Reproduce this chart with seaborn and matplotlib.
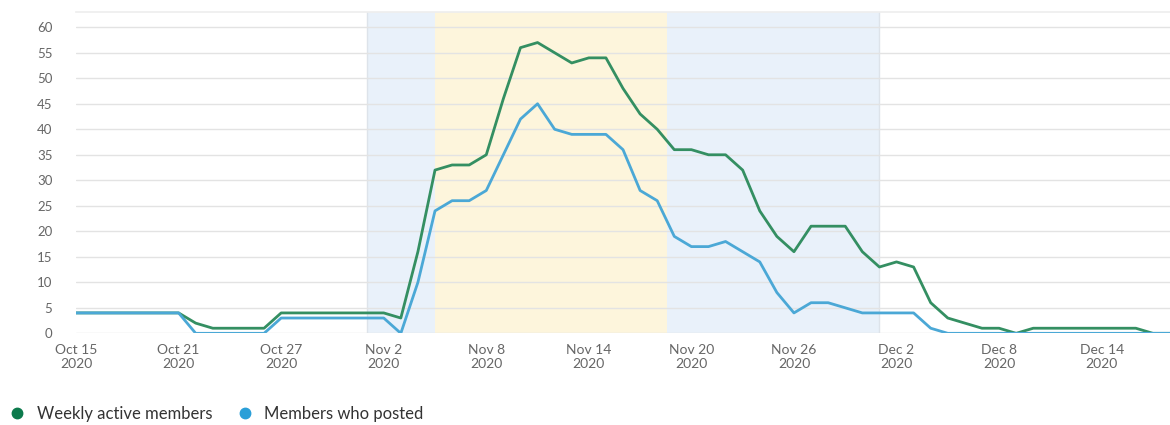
import numpy as np
import pandas as pd
import matplotlib
matplotlib.use("Agg")
import matplotlib.pyplot as plt
from matplotlib.lines import Line2D
import seaborn as sns

start_date = "2020-10-15"
end_date = "2020-12-18"

weekly_active = [4, 4, 4, 4, 4, 4, 4, 2, 1, 1, 1, 1, 4, 4, 4, 4, 4, 4, 4,
                 3, 16, 32, 33, 33, 35, 46, 56, 57, 55, 53, 54, 54, 48, 43, 40,
                 36, 36, 35, 35, 32, 24, 19, 16, 21, 21, 21, 16,
                 13, 14, 13, 6, 3, 2, 1, 1, 0, 1, 1, 1, 1, 1, 1, 1, 0, 0]
members_posted = [4, 4, 4, 4, 4, 4, 4, 0, 0, 0, 0, 0, 3, 3, 3, 3, 3, 3, 3,
                  0, 10, 24, 26, 26, 28, 35, 42, 45, 40, 39, 39, 39, 36, 28, 26,
                  19, 17, 17, 18, 16, 14, 8, 4, 6, 6, 5, 4,
                  4, 4, 4, 1, 0, 0, 0, 0, 0, 0, 0, 0, 0, 0, 0, 0, 0, 0]
series_names = ["Weekly active members", "Members who posted"]
tick_dates = ["2020-10-15", "2020-10-21", "2020-10-27", "2020-11-02", "2020-11-08",
              "2020-11-14", "2020-11-20", "2020-11-26", "2020-12-02", "2020-12-08",
              "2020-12-14"]
bands = [("2020-11-01", "2020-11-05", "#e9f1fa"),
         ("2020-11-05", "2020-11-18 14:00", "#fdf5dc"),
         ("2020-11-18 14:00", "2020-12-01", "#e9f1fa")]

dates = pd.date_range(start_date, end_date, freq="D")
df = pd.DataFrame({
    "date": np.concatenate([dates, dates]),
    "value": weekly_active + members_posted,
    "series": [series_names[0]] * len(dates) + [series_names[1]] * len(dates),
})

sns.set_theme(style="white")
plt.rcParams["font.family"] = ["Lato", "DejaVu Sans"]

line_colors = {series_names[0]: "#348f62", series_names[1]: "#4ba8d6"}
dot_colors = ["#0c7a4c", "#2a9fd8"]

fig = plt.figure(figsize=(11.7, 4.25), dpi=100)
ax = fig.add_axes([0.065, 0.2157, 0.935, 0.755])

for b0, b1, c in bands:
    ax.axvspan(pd.Timestamp(b0), pd.Timestamp(b1), color=c, zorder=0, lw=0)
for b in ["2020-11-01", "2020-12-01"]:
    ax.axvline(pd.Timestamp(b), color="#dde3ea", lw=1, zorder=0.5)

sns.lineplot(data=df, x="date", y="value", hue="series", palette=line_colors,
             linewidth=2, ax=ax, legend=False, zorder=3)

ax.set_xlim(pd.Timestamp(start_date), pd.Timestamp(end_date))
ax.set_ylim(0, 62.9)
ax.set_yticks(range(0, 61, 5))
ax.yaxis.grid(True, color="#e3e3e3", lw=1)
ax.set_axisbelow(True)
ax.set_xticks(pd.to_datetime(tick_dates))
ax.set_xticklabels([pd.Timestamp(d).strftime("%b ") + str(pd.Timestamp(d).day) + "\n2020"
                    for d in tick_dates])
ax.tick_params(axis="x", length=0, pad=8, labelsize=10, labelcolor="#666666")
ax.tick_params(axis="y", length=0, pad=17, labelsize=9.5, labelcolor="#666666")
for lab in ax.get_xticklabels():
    lab.set_linespacing(1.2)
for s in ["left", "right", "bottom"]:
    ax.spines[s].set_visible(False)
ax.spines["top"].set_color("#eeeeee")
ax.set_xlabel("")
ax.set_ylabel("")

handles = [Line2D([], [], marker="o", ls="", markersize=7.5, color=c) for c in dot_colors]
fig.legend(handles, series_names, loc="center left", bbox_to_anchor=(0.0077, 11 / 425),
           frameon=False, ncol=2, fontsize=12, handlelength=1.0, handletextpad=0.68,
           columnspacing=1.42, borderaxespad=0, borderpad=0, labelcolor="#333333")

fig.savefig("out.png", dpi=100)
